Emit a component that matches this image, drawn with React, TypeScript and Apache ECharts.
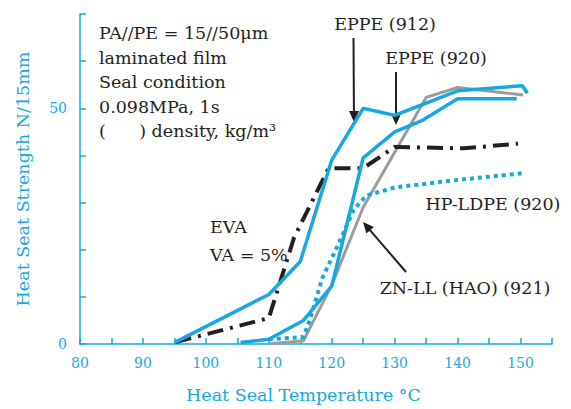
import React, { useEffect, useRef } from "react";
import * as echarts from "echarts";

// ---- data ----
const eppe912Temp = [95, 110, 115, 120, 125, 130, 140, 150.3, 151.1];
const eppe912Strength = [0.3, 10.5, 17.5, 39, 50, 48.5, 53.7, 54.8, 53.2];

const eppe920Temp = [105.5, 110, 115.5, 120, 125, 130, 134.5, 140, 149.4];
const eppe920Strength = [0.3, 1, 5, 12.3, 39.5, 45, 47.5, 52, 52];

const hpLdpeTemp = [110, 115.5, 116.5, 118.5, 121, 123.5, 125.5, 130, 140, 150.2];
const hpLdpeStrength = [1, 1.5, 5, 14, 21, 28.5, 31.5, 33.2, 34.8, 36.2];

const znLlTemp = [110, 115.5, 120, 125, 135, 140, 150.4];
const znLlStrength = [0, 0.7, 12.5, 29, 52.3, 54.4, 52.8];

const evaTemp = [95.2, 110, 114, 119.5, 125, 130, 141, 149.6];
const evaStrength = [0.4, 5.5, 22.5, 37.3, 37.3, 41.8, 41.5, 42.5];

const xLabelValues = [80, 90, 100, 110, 120, 130, 140, 150];
const yLabelValues = [0, 50];

const noteLines = [
  "PA//PE = 15//50μm",
  "laminated film",
  "Seal condition",
  "0.098MPa, 1s",
  "(      ) density, kg/m³",
];

const xAxisTitle = "Heat Seal Temperature °C";
const yAxisTitle = "Heat Seat Strength N/15mm";

// ---- styles ----
const CYAN = "#17a8e1";
const GRAY = "#9c9c9c";
const INK = "#231f20";
const SERIF = '"DejaVu Serif", serif';

const zip = (xs: number[], ys: number[]) => xs.map((x, i) => [x, ys[i]]);

function arrow(start: number[], tip: number[]) {
  const dx = tip[0] - start[0];
  const dy = tip[1] - start[1];
  const len = Math.sqrt(dx * dx + dy * dy);
  const ux = dx / len;
  const uy = dy / len;
  const headLen = 11;
  const headHalf = 5;
  const bx = tip[0] - ux * headLen;
  const by = tip[1] - uy * headLen;
  return [
    {
      type: "line",
      shape: { x1: start[0], y1: start[1], x2: bx + ux * 2, y2: by + uy * 2 },
      style: { stroke: INK, lineWidth: 2 },
      silent: true,
    },
    {
      type: "polygon",
      shape: {
        points: [
          [tip[0], tip[1]],
          [bx - uy * headHalf, by + ux * headHalf],
          [bx + uy * headHalf, by - ux * headHalf],
        ],
      },
      style: { fill: INK },
      silent: true,
    },
  ];
}

function label(text: string, x: number, y: number, align: string = "center") {
  return {
    type: "text",
    x,
    y,
    silent: true,
    style: {
      text,
      fill: INK,
      fontFamily: SERIF,
      fontSize: 17.5,
      align,
      verticalAlign: "middle",
    },
  };
}

export default function App() {
  const ref = useRef<HTMLDivElement>(null);

  useEffect(() => {
    const chart = echarts.init(ref.current!, null, { renderer: "svg" });

    const graphic: any[] = [];
    noteLines.forEach((t, i) => graphic.push(label(t, 99, 33 + i * 24.5, "left")));
    graphic.push(label("EPPE (912)", 385, 23.5));
    graphic.push(label("EPPE (920)", 436, 57.5));
    graphic.push(label("HP-LDPE (920)", 493, 204));
    graphic.push(label("ZN-LL (HAO) (921)", 465, 288));
    graphic.push(label("EVA", 210, 226.5, "left"));
    graphic.push(label("VA = 5%", 210, 255, "left"));
    graphic.push(...arrow([353.5, 38], [354, 122]));
    graphic.push(...arrow([396, 72], [396, 125]));
    graphic.push(...arrow([406, 272], [363, 222]));

    const axisText = { color: CYAN, fontFamily: SERIF, fontSize: 14 };

    chart.setOption({
      animation: false,
      backgroundColor: "#ffffff",
      grid: { left: 80, right: 19, top: 14, bottom: 64, containLabel: false },
      xAxis: {
        type: "value",
        min: 80,
        max: 155,
        interval: 5,
        axisLine: { show: true, onZero: false, lineStyle: { color: CYAN, width: 1.5 } },
        axisTick: { show: true, inside: true, length: 6, lineStyle: { color: CYAN, width: 1.5 } },
        axisLabel: {
          ...axisText,
          margin: 12,
          formatter: (v: number) => (xLabelValues.includes(v) ? String(v) : ""),
        },
        splitLine: { show: false },
        name: xAxisTitle,
        nameLocation: "middle",
        nameGap: 42,
        nameTextStyle: { color: CYAN, fontFamily: SERIF, fontSize: 17.5, padding: [0, 25, 0, 0] },
      },
      yAxis: {
        type: "value",
        min: 0,
        max: 70,
        interval: 10,
        axisLine: { show: true, lineStyle: { color: CYAN, width: 1.5 } },
        axisTick: { show: true, inside: true, length: 6, lineStyle: { color: CYAN, width: 1.5 } },
        axisLabel: {
          ...axisText,
          margin: 13,
          formatter: (v: number) => (yLabelValues.includes(v) ? String(v) : ""),
        },
        splitLine: { show: false },
        name: yAxisTitle,
        nameLocation: "middle",
        nameGap: 48,
        nameRotate: 90,
        nameTextStyle: { color: CYAN, fontFamily: SERIF, fontSize: 17.5 },
      },
      series: [
        {
          name: "ZN-LL (HAO) (921)",
          type: "line",
          data: zip(znLlTemp, znLlStrength),
          symbol: "none",
          lineStyle: { color: GRAY, width: 3 },
        },
        {
          name: "HP-LDPE (920)",
          type: "line",
          data: zip(hpLdpeTemp, hpLdpeStrength),
          symbol: "none",
          lineStyle: { color: CYAN, width: 4, type: [4, 4] },
        },
        {
          name: "EVA VA=5%",
          type: "line",
          data: zip(evaTemp, evaStrength),
          symbol: "none",
          lineStyle: { color: INK, width: 4, type: [16, 7, 3, 7] },
        },
        {
          name: "EPPE (920)",
          type: "line",
          data: zip(eppe920Temp, eppe920Strength),
          symbol: "none",
          lineStyle: { color: CYAN, width: 3.5 },
        },
        {
          name: "EPPE (912)",
          type: "line",
          data: zip(eppe912Temp, eppe912Strength),
          symbol: "none",
          lineStyle: { color: CYAN, width: 3.5 },
        },
      ],
      graphic,
    });

    return () => chart.dispose();
  }, []);

  return (
    <div
      ref={ref}
      style={{ position: "fixed", left: 0, top: 0, width: 571, height: 409, background: "#fff" }}
    />
  );
}
